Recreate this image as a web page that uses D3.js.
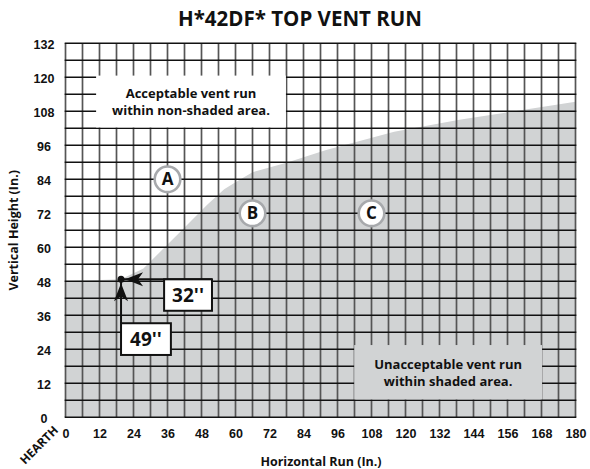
<!DOCTYPE html>
<html>
<head>
<meta charset="utf-8">
<script src="https://cdn.jsdelivr.net/npm/d3@7/dist/d3.min.js"></script>
<style>
  body { margin: 0; background: #fff; }
  svg { display: block; font-family: "Open Sans", "DejaVu Sans", sans-serif; font-weight: bold; }
</style>
</head>
<body>
<svg id="chart" width="590" height="469"></svg>
<script>
// ---- data ----
const title = "H*42DF* TOP VENT RUN";
const xTicks = [0, 12, 24, 36, 48, 60, 72, 84, 96, 108, 120, 132, 144, 156, 168, 180];
const yTicks = [0, 12, 24, 36, 48, 60, 72, 84, 96, 108, 120, 132];
// boundary of unacceptable (shaded) area: [horizontal run, vertical height]
const boundaryX = [0, 19.6, 27.5, 40, 50, 56, 60, 66, 78, 92, 116, 139, 180];
const boundaryY = [48, 48.7, 52.5, 65, 75, 80.5, 83, 86.5, 89.8, 94.3, 100.8, 105, 111.4];
const zoneLabels = ["A", "B", "C"];
const zoneX = [36, 66, 108];
const zoneY = [84, 72, 72];
const minPoint = [19.6, 48.7];
const minLabels = ["32''", "49''"];

// ---- layout ----
const svg = d3.select("#chart");
const x = d3.scaleLinear().domain([0, 180]).range([65.5, 575.5]);
const y = d3.scaleLinear().domain([0, 132]).range([417.3, 43.3]);
const shade = "#d1d3d4";

// shaded area
const pts = boundaryX.map((d, i) => [d, boundaryY[i]]);
const area = d3.area().x(d => x(d[0])).y0(y(0)).y1(d => y(d[1]));
svg.append("path").datum(pts).attr("d", area).attr("fill", shade);

// grid
const gx = d3.range(0, 181, 6), gy = d3.range(0, 133, 6);
svg.append("g").selectAll("line").data(gx).join("line")
  .attr("x1", d => x(d)).attr("x2", d => x(d))
  .attr("y1", y(0)).attr("y2", y(132))
  .attr("stroke", "#555").attr("stroke-width", 1.7);
svg.append("g").selectAll("line").data(gy).join("line")
  .attr("x1", x(0) - 0.8).attr("x2", x(180) + 0.8)
  .attr("y1", d => y(d)).attr("y2", d => y(d))
  .attr("stroke", "#111").attr("stroke-width", 1.5);

// text boxes
function box(x0, x1, y0, y1, fill, lines) {
  svg.append("rect").attr("x", x(x0)).attr("y", y(y1))
    .attr("width", x(x1) - x(x0)).attr("height", y(y0) - y(y1)).attr("fill", fill);
  const cx = (x(x0) + x(x1)) / 2, cy = (y(y0) + y(y1)) / 2;
  svg.append("text").attr("x", cx).attr("y", cy - 8.5 + 4.8)
    .attr("text-anchor", "middle").attr("font-size", 13).attr("fill", "#111").text(lines[0]);
  svg.append("text").attr("x", cx).attr("y", cy + 8.5 + 4.8)
    .attr("text-anchor", "middle").attr("font-size", 13).attr("fill", "#111").text(lines[1]);
}
box(10.8, 77.8, 102.3, 120.6, "#fff", ["Acceptable vent run", "within non-shaded area."]);
box(101.9, 168.2, 6.3, 25.5, shade, ["Unacceptable vent run", "within shaded area."]);

// zone circles
const zg = svg.append("g").selectAll("g").data(zoneLabels).join("g")
  .attr("transform", (d, i) => `translate(${x(zoneX[i])},${y(zoneY[i])})`);
zg.append("circle").attr("r", 12.8).attr("fill", "#fff")
  .attr("stroke", "#a7a9ac").attr("stroke-width", 2.6);
zg.append("text").attr("text-anchor", "middle").attr("dy", "0.36em")
  .attr("font-size", 17).attr("fill", "#111").text(d => d);

// minimum point callouts
const px = x(minPoint[0]), py = y(minPoint[1]);
// horizontal callout
const hb = { x0: x(34.8), x1: x(51.7), y0: py, y1: y(37.6) };
svg.append("line").attr("x1", px).attr("x2", hb.x1).attr("y1", py).attr("y2", py)
  .attr("stroke", "#111").attr("stroke-width", 2);
svg.append("rect").attr("x", hb.x0).attr("y", hb.y0).attr("width", hb.x1 - hb.x0)
  .attr("height", hb.y1 - hb.y0).attr("fill", "#fff").attr("stroke", "#111").attr("stroke-width", 2);
svg.append("text").attr("x", (hb.x0 + hb.x1) / 2).attr("y", (hb.y0 + hb.y1) / 2 + 7)
  .attr("text-anchor", "middle").attr("font-size", 19).attr("fill", "#111").text(minLabels[0]);
// vertical callout
const vb = { x0: px, x1: x(37.2), y0: y(33.2), y1: y(22) };
svg.append("line").attr("x1", px).attr("x2", px).attr("y1", py).attr("y2", vb.y0)
  .attr("stroke", "#111").attr("stroke-width", 2);
svg.append("rect").attr("x", vb.x0).attr("y", vb.y0).attr("width", vb.x1 - vb.x0)
  .attr("height", vb.y1 - vb.y0).attr("fill", "#fff").attr("stroke", "#111").attr("stroke-width", 2);
svg.append("text").attr("x", (vb.x0 + vb.x1) / 2).attr("y", (vb.y0 + vb.y1) / 2 + 7)
  .attr("text-anchor", "middle").attr("font-size", 19).attr("fill", "#111").text(minLabels[1]);
// arrow heads
svg.append("path").attr("transform", `translate(${px + 4},${py})`)
  .attr("d", "M0,0 L18,-7 L13,0 L18,7 Z").attr("fill", "#111");
svg.append("path").attr("transform", `translate(${px},${py + 4})`)
  .attr("d", "M0,0 L-7,18 L0,13 L7,18 Z").attr("fill", "#111");
svg.append("circle").attr("cx", px).attr("cy", py).attr("r", 3.5).attr("fill", "#111");

// axes labels
const xAxis = d3.axisBottom(x).tickValues(xTicks).tickSize(0).tickPadding(0);
const xg = svg.append("g").attr("transform", `translate(0,${y(0)})`).call(xAxis);
xg.select(".domain").remove();
xg.selectAll("text").attr("font-size", 12.5).attr("font-family", null).attr("fill", "#111")
  .attr("dy", null).attr("y", 20.5);
const yAxis = d3.axisLeft(y).tickValues(yTicks).tickSize(0).tickPadding(0);
const yg = svg.append("g").attr("transform", `translate(44,0)`).call(yAxis);
yg.select(".domain").remove();
yg.selectAll("text").attr("font-size", 12.5).attr("font-family", null).attr("fill", "#111")
  .attr("text-anchor", "middle").attr("x", 0).attr("dy", "0.4em");

svg.append("text").attr("transform", "translate(59,431) rotate(-45)")
  .attr("text-anchor", "end").attr("font-size", 12).attr("fill", "#111").text("HEARTH");

svg.append("text").attr("x", 321).attr("y", 466).attr("text-anchor", "middle")
  .attr("font-size", 12.5).attr("fill", "#111").text("Horizontal Run (In.)");
svg.append("text").attr("transform", `translate(18,${(y(0) + y(132)) / 2}) rotate(-90)`)
  .attr("text-anchor", "middle").attr("font-size", 12.5).attr("fill", "#111").text("Vertical Height (In.)");

svg.append("text").attr("x", 300).attr("y", 26).attr("text-anchor", "middle")
  .attr("font-size", 20.5).attr("fill", "#111").text(title);
</script>
</body>
</html>
